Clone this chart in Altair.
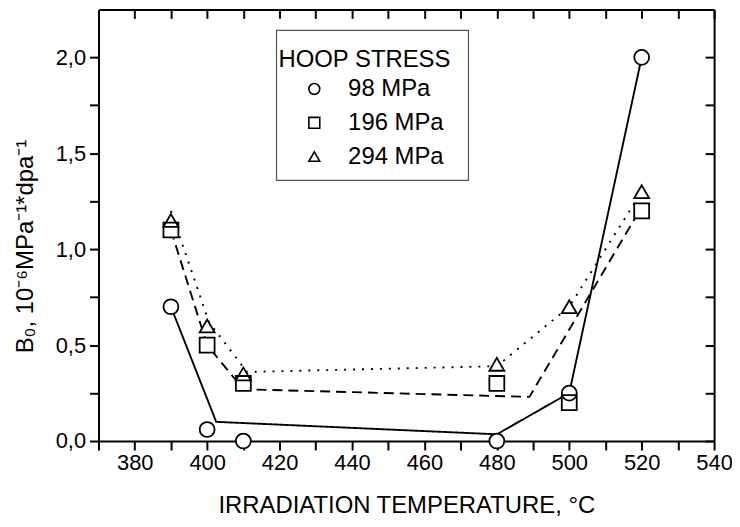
import altair as alt
import pandas as pd

FONT = "Liberation Sans"

# ---- data ----
series_names = ["98 MPa", "196 MPa", "294 MPa"]
temperature = [390, 400, 410, 480, 500, 520]
b0_98 = [0.70, 0.06, 0.00, 0.00, 0.25, 2.00]
b0_196 = [1.10, 0.50, 0.30, 0.30, 0.20, 1.20]
b0_294 = [1.15, 0.60, 0.35, 0.40, 0.70, 1.30]

# drawn trend lines (vertices)
curve_names = ["solid", "dashed", "dotted"]
line98_t = [390, 402.5, 480, 500, 520]
line98_b = [0.70, 0.10, 0.035, 0.25, 2.00]
line196_t = [390, 400, 410, 489, 520]
line196_b = [1.10, 0.50, 0.27, 0.23, 1.22]
line294_t = [390, 400.5, 411, 480, 500, 520]
line294_b = [1.20, 0.62, 0.36, 0.39, 0.70, 1.30]

x_ticks = list(range(370, 541, 10))
y_ticks = [0, 0.25, 0.5, 0.75, 1.0, 1.25, 1.5, 1.75, 2.0]

pts = pd.DataFrame({
    "T": temperature * 3,
    "B0": b0_98 + b0_196 + b0_294,
    "stress": [s for s in series_names for _ in temperature],
})
pts["bg"] = pts["stress"]
lines = pd.DataFrame({
    "T": line98_t + line196_t + line294_t,
    "B0": line98_b + line196_b + line294_b,
    "curve": [curve_names[0]] * len(line98_t)
    + [curve_names[1]] * len(line196_t)
    + [curve_names[2]] * len(line294_t),
})

W, H = 619, 434
x_scale = alt.Scale(domain=[370, 540], nice=False, zero=False)
y_scale = alt.Scale(domain=[0, 2.25], nice=False, zero=False)
shapes = ["circle", "square", "triangle-up"]

common = dict(domainColor="black", domainWidth=2, tickColor="black",
              tickWidth=2, tickSize=9, grid=False)

x_bottom = alt.Axis(
    values=x_ticks, labelExpr="datum.value % 20 == 0 ? datum.value : ''",
    labelFontSize=22, labelFont=FONT, labelColor="black", labelPadding=3,
    labelFlush=False, labelOverlap=False,
    title="IRRADIATION TEMPERATURE, °C", titleFontSize=24, titleFont=FONT,
    titleFontWeight="normal", titleColor="black", titleY=72,
    titleBaseline="alphabetic", **common)
y_left = alt.Axis(
    values=y_ticks,
    labelExpr="datum.value % 0.5 == 0 ? replace(format(datum.value, '.1f'), '.', ',') : ''",
    labelFontSize=22, labelFont=FONT, labelColor="black", labelPadding=4,
    labelFlush=False, labelOverlap=False,
    title="B₀, 10⁻⁶MPa⁻¹*dpa⁻¹", titleFontSize=24, titleFont=FONT,
    titleFontWeight="normal", titleColor="black", titleAngle=270,
    titleX=-66, titleY=238, titleBaseline="alphabetic", titleAlign="center",
    **common)
x_top = alt.Axis(orient="bottom", offset=-H, values=x_ticks, labels=False,
                 title=None, **common)
y_right = alt.Axis(orient="left", offset=-W, values=y_ticks, labels=False,
                   title=None, **common)

box = alt.Chart(pd.DataFrame({"k": [0]})).mark_rect(
    fill="white", fillOpacity=0, stroke="#555555", strokeWidth=1.2
).encode(x=alt.value(179), x2=alt.value(372), y=alt.value(21), y2=alt.value(172))

line_layer = alt.Chart(lines).mark_line(color="black", strokeWidth=1.9).encode(
    x=alt.X("T:Q", scale=x_scale, axis=x_bottom),
    y=alt.Y("B0:Q", scale=y_scale, axis=y_left),
    detail="curve:N",
    strokeDash=alt.StrokeDash(
        "curve:N",
        scale=alt.Scale(domain=curve_names, range=[[1, 0], [10, 6], [2, 7]]),
        legend=None),
)

# white discs under the hollow markers so that lines stop at marker edges
bg_layer = alt.Chart(pts).mark_point(
    filled=True, color="white", opacity=1, size=225
).encode(
    x=alt.X("T:Q", scale=x_scale, axis=None),
    y=alt.Y("B0:Q", scale=y_scale, axis=None),
    shape=alt.Shape("bg:N", scale=alt.Scale(domain=series_names, range=shapes),
                    legend=None),
)

pt_layer = alt.Chart(pts).mark_point(
    filled=False, color="black", strokeWidth=1.8, opacity=1, size=225
).encode(
    x=alt.X("T:Q", scale=x_scale, axis=x_top),
    y=alt.Y("B0:Q", scale=y_scale, axis=y_right),
    shape=alt.Shape(
        "stress:N",
        scale=alt.Scale(domain=series_names, range=shapes),
        legend=alt.Legend(
            title="HOOP STRESS", orient="none", legendX=181, legendY=39,
            titleFontSize=24, titleFont=FONT, titleFontWeight="normal",
            titleColor="black", titlePadding=5,
            labelFontSize=24, labelFont=FONT, labelColor="black",
            symbolSize=120, symbolStrokeWidth=1.6, symbolStrokeColor="black",
            symbolOffset=24, labelOffset=22,
            rowPadding=10, padding=0, zindex=2,
        ),
    ),
)

chart = alt.layer(box, line_layer, bg_layer, pt_layer).resolve_axis(
    x="independent", y="independent"
).resolve_scale(shape="independent").resolve_legend(shape="independent").properties(
    width=W, height=H,
    autosize=alt.AutoSizeParams(type="none"),
    padding={"left": 91, "top": 0, "right": 18, "bottom": 77},
).configure_view(stroke=None).configure(background="white")

chart.save("out.html", embed_options={"renderer": "svg", "actions": False})
